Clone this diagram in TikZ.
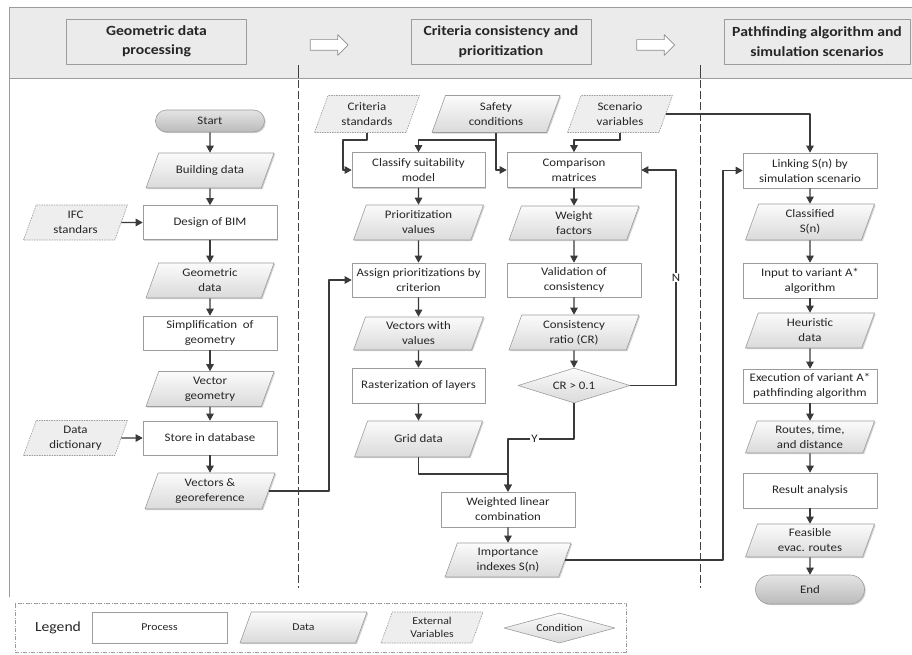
\documentclass[tikz,border=0pt]{standalone}
\usepackage{fontspec}
\setmainfont{Carlito}[FakeStretch=1.12]
\usetikzlibrary{arrows.meta,shapes.geometric,shapes.misc,shapes.arrows,shadows}
\definecolor{evInk}{HTML}{262626}
\definecolor{evLine}{HTML}{9C9C9C}
\definecolor{evArrow}{HTML}{3A3A3A}
\definecolor{evBand}{HTML}{EBEBEB}
\definecolor{evTop}{HTML}{FBFBFB}
\definecolor{evBottom}{HTML}{DADADA}
\definecolor{evExt}{HTML}{EEEEEE}
\definecolor{evTermTop}{HTML}{E4E4E4}
\definecolor{evTermBottom}{HTML}{BBBBBB}
\tikzset{
  ev diagram/.style={x=1pt, y=-1pt, font=\fontsize{11.5}{15}\selectfont,
    text=evInk, line join=round},
  ev shadow/.style={drop shadow={shadow xshift=1.2pt, shadow yshift=-1.2pt,
    opacity=0.18, fill=black}},
  ev process/.style={rectangle, draw=evLine, fill=white, line width=0.6pt,
    align=center, inner sep=2pt, minimum width=134pt, minimum height=34pt,
    ev shadow},
  % the text sits in a box of fixed height, so inner ysep sets the height
  ev para/.style={trapezium, trapezium left angle=70, trapezium right angle=110,
    trapezium stretches body, draw=evLine, line width=0.6pt,
    inner xsep=1pt, inner ysep=7pt, minimum width=128pt,
    execute at begin node={\begin{minipage}[c][21pt][c]{76pt}\centering},
    execute at end node={\end{minipage}}},
  ev data/.style={ev para, top color=evTop, bottom color=evBottom, ev shadow},
  ev external/.style={ev para, fill=evExt, dash pattern=on 1.5pt off 1pt,
    minimum width=104pt},
  ev terminal/.style={rounded rectangle, draw=evLine, line width=0.6pt,
    top color=evTermTop, bottom color=evTermBottom, minimum width=111pt,
    minimum height=22pt, inner sep=1pt, ev shadow},
  ev condition/.style={diamond, aspect=3.2, draw=evLine, line width=0.6pt,
    top color=evTop, bottom color=evBottom, minimum width=112pt,
    minimum height=35pt, inner sep=0pt},
  ev arrow/.style={-{Triangle[length=7pt,width=7.5pt]}, draw=evArrow,
    line width=1.1pt},
  ev label/.style={fill=white, inner sep=1pt, font=\fontsize{11.5}{12}\selectfont},
  ev header/.style={rectangle, draw=evLine, fill=evBand, line width=0.6pt,
    minimum width=180pt, minimum height=45pt, align=center,
    font=\bfseries\fontsize{14}{19.5}\selectfont},
  ev hollow/.style={single arrow, draw=black!45, fill=white, line width=0.7pt,
    minimum height=38pt, inner sep=5pt, single arrow head extend=5pt},
  ev divider/.style={draw=black!75, line width=0.9pt,
    dash pattern=on 8pt off 3pt},
  ev legend/.style={draw=evLine, line width=0.6pt,
    dash pattern=on 4pt off 1.5pt on 1pt off 1.5pt},
  ev small/.style={font=\fontsize{10.5}{13}\selectfont}
}

\begin{document}
\begin{tikzpicture}[ev diagram]
\useasboundingbox (0,0) rectangle (912,655);
% frame and header band
\fill[evBand] (9,7) rectangle (912,78);
\draw[evLine, line width=0.7pt] (912,7) -- (9,7) -- (9,597);
\draw[evLine, line width=0.7pt] (9,78) -- (912,78);
\node[ev header] (hgeo) at (156.5,41.5) {Geometric data\\processing};
\node[ev header] (hcrit) at (501,41.5) {Criteria consistency and\\prioritization};
\node[ev header, minimum width=186pt] (hpath) at (817,41.5) {Pathfinding algorithm and\\simulation scenarios};
\node[ev hollow] (harrA) at (326.5,45) {};
\node[ev hollow] (harrB) at (653,45) {};
\foreach \x in {298,700}{
  \draw[black!75, line width=0.9pt] (\x,65) -- (\x,78);
  \draw[ev divider] (\x,80) -- (\x,588);
}

% geometric data processing
\node[ev terminal] (start) at (210,121) {Start};
\node[ev data] (bdata) at (210,170.5) {Building data};
\node[ev process] (bim) at (210,222.5) {Design of BIM};
\node[ev external] (ifc) at (75.5,222.5) {IFC\\standars};
\node[ev data] (geodata) at (210,280.5) {Geometric\\data};
\node[ev process] (simplify) at (210,333) {Simplification~ of\\geometry};
\node[ev data] (vecgeo) at (210,389) {Vector\\geometry};
\node[ev process] (store) at (210,438) {Store in database};
\node[ev external] (dict) at (75.5,438) {Data\\dictionary};
\node[ev data, minimum width=130pt, inner ysep=7.5pt] (vgeo) at (210,491) {Vectors \&\\georeference};

% criteria consistency and prioritization
\node[ev external, minimum width=103pt, inner ysep=8pt] (critstd) at (367,114) {Criteria\\standards};
\node[ev data, inner ysep=8pt] (safety) at (496,114) {Safety\\conditions};
\node[ev external, inner ysep=8pt] (scenario) at (620,114) {Scenario\\variables};
\node[ev process, minimum width=133pt, minimum height=35pt] (classify) at (418.5,170) {Classify suitability\\model};
\node[ev data, minimum width=130pt] (priovals) at (418.5,222.5) {Prioritization\\values};
\node[ev process, minimum width=133pt] (assign) at (418.5,280) {Assign prioritizations by\\criterion};
\node[ev data, minimum width=130pt, inner ysep=6pt] (vecvals) at (418.5,333.5) {Vectors with\\values};
\node[ev process, minimum width=133pt, minimum height=35pt] (raster) at (418.5,385.5) {Rasterization of layers};
\node[ev data, inner ysep=7.5pt] (grid) at (418.5,439) {Grid data};
\node[ev process, minimum height=35pt] (compare) at (574,170) {Comparison\\matrices};
\node[ev data, minimum width=130pt, inner ysep=6.5pt] (weights) at (574,223) {Weight\\factors};
\node[ev process] (validate) at (574,280) {Validation of\\consistency};
\node[ev data, minimum width=130pt] (cratio) at (574,332.5) {Consistency\\ratio (CR)};
\node[ev condition] (cond) at (574,385.5) {CR > 0.1};
\node[ev process, minimum height=35pt] (wlc) at (508,509.5) {Weighted linear\\combination};
\node[ev data, minimum width=126pt, inner ysep=6.5pt] (importance) at (508,560) {Importance\\indexes S(n)};

% pathfinding algorithm and simulation scenarios
\node[ev process, minimum height=35pt] (link) at (810,170.5) {Linking S(n) by\\simulation scenario};
\node[ev data, minimum width=129pt, inner ysep=7.5pt] (classified) at (810,222) {Classified\\S(n)};
\node[ev process, minimum height=35pt] (input) at (810,280.5) {Input to variant A*\\algorithm};
\node[ev data, minimum width=129pt] (heuristic) at (810,330.5) {Heuristic\\data};
\node[ev process] (execute) at (810,386) {Execution of variant A*\\pathfinding algorithm};
\node[ev data, minimum width=129pt, inner ysep=5.5pt] (routes) at (810,437) {Routes, time,\\and distance};
\node[ev process, minimum height=35pt] (result) at (810,490.5) {Result analysis};
\node[ev data, minimum width=129pt, inner ysep=6pt] (feasible) at (810,540.5) {Feasible\\evac. routes};
\node[ev terminal, minimum height=29pt] (endnode) at (810,589.5) {End};

% helper coordinates for the elbow connectors
\coordinate (topbus) at (0,140);
\coordinate (gridbus) at (0,474);
\coordinate (ybus) at (0,439);
\coordinate (critcol) at (343,0);
\coordinate (vgeocol) at (329,0);
\coordinate (ncol) at (676,0);
\coordinate (impcol) at (723,0);

\foreach \a/\b in {start/bdata,bdata/bim,bim/geodata,geodata/simplify,
    simplify/vecgeo,vecgeo/store,store/vgeo,ifc/bim,dict/store,
    classify/priovals,priovals/assign,assign/vecvals,vecvals/raster,
    raster/grid,compare/weights,weights/validate,validate/cratio,
    cratio/cond,wlc/importance,link/classified,classified/input,
    input/heuristic,heuristic/execute,execute/routes,routes/result,
    result/feasible,feasible/endnode}
  \draw[ev arrow] (\a) -- (\b);

\draw[ev arrow] (critstd.south) -- (critstd.south |- topbus) -| (critcol |- classify.west) -- (classify.west);
\draw[ev arrow] (safety.south) -- (safety.south |- topbus) -| (classify.north);
\draw[ev arrow] (safety.south |- topbus) |- (compare.west);
\draw[ev arrow] (scenario.south) -- (scenario.south |- topbus) -| (compare.north);
\draw[ev arrow] (scenario.east) -| (link.north);
\draw[ev arrow] (vgeo.east) -- (vgeo.east -| vgeocol) |- (assign.west);
\draw[ev arrow] (grid.south) -- (grid.south |- gridbus) -| (wlc.north);
\draw[ev arrow] (cond.east) -| (ncol |- compare.east) node[ev label, pos=0.75] {N} -- (compare.east);
\draw[ev arrow] (cond.south) |- (wlc.north |- ybus) node[ev label, pos=0.8] {Y} -- (wlc.north);
\draw[ev arrow] (importance.east) -- (importance.east -| impcol) |- (link.west);

% legend
\node[ev legend, minimum width=611pt, minimum height=49pt] (legendbox) at (320.5,627.5) {};
\node[font=\fontsize{14}{18}\selectfont] (legendtitle) at (58,628) {Legend};
\node[ev process, ev small, minimum width=135pt, minimum height=31pt] (lgprocess) at (159.5,627.5) {Process};
\node[ev data, ev small, minimum width=127pt, inner ysep=5pt] (lgdata) at (303.5,627.5) {Data};
\node[ev external, ev small, minimum width=102pt, inner ysep=5pt] (lgext) at (432,627.5) {External\\Variables};
\node[ev condition, ev small, minimum width=111pt, minimum height=30pt] (lgcond) at (559.5,628) {Condition};
\end{tikzpicture}
\end{document}
